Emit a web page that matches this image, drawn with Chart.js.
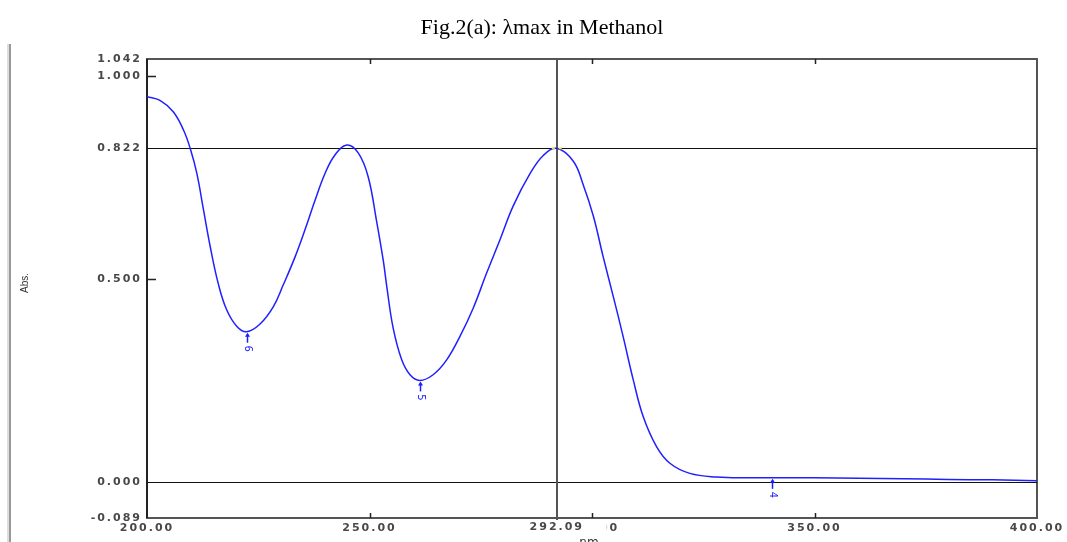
<!DOCTYPE html>
<html>
<head>
<meta charset="utf-8">
<title>λmax in Methanol</title>
<script src="https://cdn.jsdelivr.net/npm/chart.js@4.4.1/dist/chart.umd.min.js"></script>
<style>
  html, body { margin: 0; padding: 0; background: #fff; }
  #wrap { position: relative; width: 1067px; height: 542px; }
</style>
</head>
<body>
<div id="wrap"><canvas id="spectrum"></canvas></div>
<script>
// UV scan in methanol, 200-400 nm
const wavelengths = [
  200.0, 202.9, 205.9, 208.2, 209.7, 211.2, 212.7, 214.2, 216.0, 217.9,
  220.2, 222.4, 225.4, 228.4, 230.6, 233.3, 235.5, 237.8, 240.0, 242.2,
  244.9, 247.5, 249.7, 251.6, 253.1, 253.9, 255.3, 257.2, 259.1, 261.3,
  264.3, 267.3, 270.3, 273.3, 276.3, 279.3, 282.3, 286.1, 289.1, 292.09,
  295.8, 298.0, 300.3, 302.5, 304.8, 307.0, 309.3, 311.5, 314.5, 317.5,
  322.0, 328.0, 335.5, 340.0, 345.0, 350.0, 360.0, 370.0, 380.0, 390.0, 400.0
];
const absorbance = [
  0.949, 0.940, 0.912, 0.867, 0.822, 0.760, 0.670, 0.580, 0.489, 0.424,
  0.383, 0.370, 0.389, 0.432, 0.485, 0.555, 0.621, 0.695, 0.760, 0.805,
  0.830, 0.810, 0.752, 0.642, 0.545, 0.480, 0.380, 0.302, 0.264, 0.250,
  0.264, 0.300, 0.358, 0.428, 0.514, 0.596, 0.680, 0.760, 0.805, 0.822,
  0.790, 0.733, 0.655, 0.555, 0.456, 0.358, 0.250, 0.161, 0.087, 0.046,
  0.021, 0.012, 0.010, 0.010, 0.010, 0.010, 0.009, 0.008, 0.006, 0.005, 0.003
];

const xTickValues = [200, 250, 300, 350, 400];
const yTickValues = [-0.089, 0.000, 0.500, 0.822, 1.000, 1.042];

// peak-pick markers (valleys)
const markerNm = [222.4, 261.3, 340.4];
const markerAbs = [0.370, 0.250, 0.010];
const markerLabels = ["6", "5", "4"];

// cursor readout
const cursorNm = 292.09;
const cursorAbs = 0.822;

const axisFont = { family: "DejaVu Sans", size: 11, weight: "bold" };
const axisFontCss = 'bold 11px "DejaVu Sans"';
const tickSpacing = "2px";
const tickColor = "#484848";

const spectrumDecor = {
  id: "spectrumDecor",
  beforeDraw(chart) {
    // wide tick lettering
    chart.ctx.letterSpacing = tickSpacing;
  },
  beforeDatasetsDraw(chart) {
    const { ctx, chartArea: a, scales: { x, y } } = chart;
    ctx.save();
    ctx.letterSpacing = "0px";

    // frame
    ctx.lineWidth = 2;
    ctx.strokeStyle = "#555";
    ctx.strokeRect(a.left, a.top, a.right - a.left, a.bottom - a.top);
    ctx.strokeStyle = "#222";
    ctx.beginPath();
    ctx.moveTo(a.left, a.top);
    ctx.lineTo(a.left, a.bottom);
    ctx.stroke();

    // inward tick marks
    ctx.lineWidth = 1.5;
    ctx.strokeStyle = "#222";
    ctx.beginPath();
    [1.0, 0.5].forEach(v => {
      const py = Math.round(y.getPixelForValue(v)) + 0.5;
      ctx.moveTo(a.left, py);
      ctx.lineTo(a.left + 9, py);
    });
    [250, 300, 350].forEach(v => {
      const px = Math.round(x.getPixelForValue(v)) + 0.5;
      ctx.moveTo(px, a.bottom);
      ctx.lineTo(px, a.bottom - 5);
      ctx.moveTo(px, a.top);
      ctx.lineTo(px, a.top + 5);
    });
    ctx.stroke();

    // baseline and cursor cross-hair
    ctx.lineWidth = 1;
    ctx.strokeStyle = "#111";
    ctx.beginPath();
    [0, cursorAbs].forEach(v => {
      const py = Math.round(y.getPixelForValue(v)) + 0.5;
      ctx.moveTo(a.left, py);
      ctx.lineTo(a.right, py);
    });
    ctx.stroke();
    ctx.lineWidth = 2;
    ctx.strokeStyle = "#555";
    const cx = Math.round(x.getPixelForValue(cursorNm));
    ctx.beginPath();
    ctx.moveTo(cx, a.top);
    ctx.lineTo(cx, a.bottom + 4);
    ctx.stroke();
    ctx.restore();
  },
  afterDraw(chart) {
    const { ctx, chartArea: a, scales: { x, y } } = chart;
    ctx.save();
    ctx.letterSpacing = "0px";

    // cursor highlight
    const cx = x.getPixelForValue(cursorNm);
    const cy = y.getPixelForValue(cursorAbs);
    ctx.fillStyle = "#e8e830";
    ctx.fillRect(cx - 5, cy - 1, 3, 2);
    ctx.fillRect(cx + 2, cy - 1, 3, 2);

    // cursor wavelength readout, laid over the 300 label
    ctx.fillStyle = "#fff";
    ctx.fillRect(cx - 38, a.bottom + 2, 88, 18);
    ctx.letterSpacing = tickSpacing;
    ctx.fillStyle = tickColor;
    ctx.font = axisFontCss;
    ctx.textAlign = "center";
    ctx.textBaseline = "top";
    ctx.fillText(cursorNm.toFixed(2), cx, a.bottom + 4);
    ctx.letterSpacing = "0px";

    // peak-pick markers
    ctx.strokeStyle = "#1c1cff";
    ctx.fillStyle = "#1c1cff";
    markerNm.forEach((nm, i) => {
      const px = Math.round(x.getPixelForValue(nm)) + 0.5;
      const py = y.getPixelForValue(markerAbs[i]);
      ctx.lineWidth = 1.5;
      ctx.beginPath();
      ctx.moveTo(px, py + 3);
      ctx.lineTo(px, py + 11);
      ctx.stroke();
      ctx.beginPath();
      ctx.moveTo(px, py + 1);
      ctx.lineTo(px - 2.5, py + 5);
      ctx.lineTo(px + 2.5, py + 5);
      ctx.closePath();
      ctx.fill();
      ctx.save();
      ctx.translate(px, py + 17);
      ctx.rotate(Math.PI / 2);
      ctx.font = '10px "DejaVu Sans"';
      ctx.textAlign = "center";
      ctx.textBaseline = "middle";
      ctx.fillText(markerLabels[i], 0, 0);
      ctx.restore();
    });

    // title
    ctx.fillStyle = "#000";
    ctx.font = '22px "Liberation Serif"';
    ctx.textAlign = "center";
    ctx.textBaseline = "middle";
    ctx.fillText("Fig.2(a): λmax in Methanol", 542, 28);

    // axis names
    ctx.fillStyle = "#333";
    ctx.font = '10px "Liberation Sans"';
    ctx.save();
    ctx.translate(25, 283);
    ctx.rotate(-Math.PI / 2);
    ctx.fillText("Abs.", 0, 0);
    ctx.restore();
    ctx.font = '12px "DejaVu Sans"';
    ctx.textBaseline = "alphabetic";
    ctx.fillText("nm", 589, 546);

    // page margin rule
    ctx.fillStyle = "#ddd";
    ctx.fillRect(7, 44, 2, 498);
    ctx.fillStyle = "#999";
    ctx.fillRect(9, 44, 2, 498);
    ctx.restore();
  }
};

new Chart(document.getElementById("spectrum").getContext("2d"), {
  type: "line",
  data: {
    datasets: [{
      label: "Abs.",
      data: wavelengths.map((nm, i) => ({ x: nm, y: absorbance[i] })),
      borderColor: "#2020ff",
      borderWidth: 1.5,
      pointRadius: 0,
      tension: 0.4,
      fill: false
    }]
  },
  options: {
    responsive: true,
    maintainAspectRatio: false,
    animation: false,
    layout: { padding: { top: 59, right: 30, left: 0, bottom: 0 } },
    scales: {
      x: {
        type: "linear",
        min: 200,
        max: 400,
        afterFit: scale => { scale.height = 24; },
        afterBuildTicks: scale => { scale.ticks = xTickValues.map(v => ({ value: v })); },
        grid: { display: false, drawTicks: false },
        border: { display: false },
        ticks: {
          font: axisFont,
          color: tickColor,
          padding: 4,
          maxRotation: 0,
          autoSkip: false,
          callback: v => Number(v).toFixed(2)
        }
      },
      y: {
        type: "linear",
        min: -0.089,
        max: 1.042,
        afterFit: scale => { scale.width = 147; },
        afterBuildTicks: scale => { scale.ticks = yTickValues.map(v => ({ value: v })); },
        grid: { display: false, drawTicks: false },
        border: { display: false },
        ticks: {
          font: axisFont,
          color: tickColor,
          padding: 5,
          autoSkip: false,
          callback: v => Number(v).toFixed(3)
        }
      }
    },
    plugins: {
      legend: { display: false },
      tooltip: { enabled: false }
    }
  },
  plugins: [spectrumDecor]
});
</script>
</body>
</html>
